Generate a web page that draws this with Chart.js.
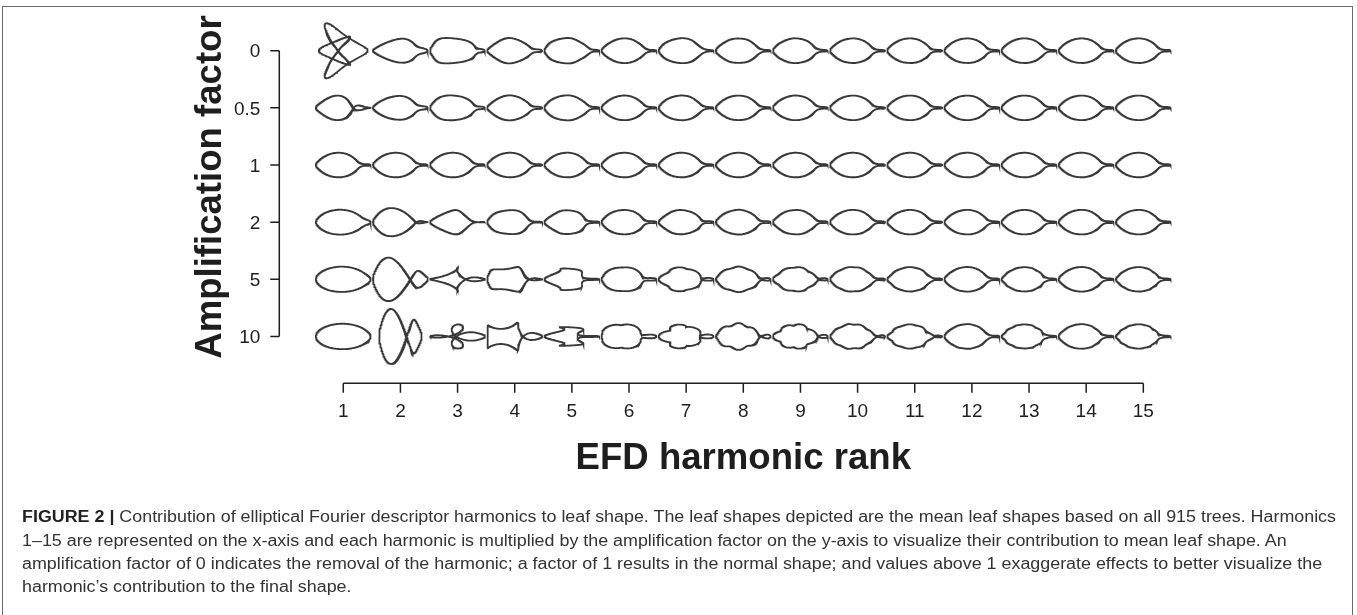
<!DOCTYPE html>
<html>
<head>
<meta charset="utf-8">
<script src="https://cdn.jsdelivr.net/npm/chart.js@4.4.1/dist/chart.umd.min.js"></script>
<style>
  html, body { margin: 0; padding: 0; background: #fff; }
  body { width: 1357px; height: 615px; position: relative; overflow: hidden;
         font-family: "Liberation Sans", Arial, Helvetica, sans-serif; }
  #frame { position: absolute; left: 2px; top: 6px; width: 1351px; height: 640px;
           border: 1.5px solid #6a6a6a; box-sizing: border-box; }
  #wrap { position: absolute; left: 0; top: 0; width: 1357px; height: 615px; }
  .cl { position: absolute; left: 22px; white-space: nowrap; color: #333;
        font-size: 16px; line-height: 20px; transform-origin: 0 50%; }
  .cl b { color: #222; }
</style>
</head>
<body>
<div id="frame"></div>
<div id="wrap"><canvas id="c" width="1357" height="615"></canvas></div>
<div id="caption"></div>
<script>
// Harmonic ranks on the x-axis and amplification factors on the y-axis
const harmonicRanks = [1, 2, 3, 4, 5, 6, 7, 8, 9, 10, 11, 12, 13, 14, 15];
const ampFactors = [0, 0.5, 1, 2, 5, 10];

// Mean leaf outline, upper edge from the apex (left) to the petiole end (right);
// the lower edge is its mirror image.
const outlineX = [-28, -26, -23, -20, -16, -12, -8, -4, 0, 4, 7, 10, 12, 14, 15.5, 17, 19, 23, 26.5, 28];
const outlineY = [0, 2.4, 5.4, 7.6, 9.8, 11.2, 11.9, 12.1, 11.7, 10.6, 9.2, 7.2, 5.6, 3.6, 2.2, 1.3, 0.9, 0.8, 0.7, 0];

const xTitle = 'EFD harmonic rank';
const yTitle = 'Amplification factor';
const captionLead = 'FIGURE 2 |';
const captionLines = [
  ' Contribution of elliptical Fourier descriptor harmonics to leaf shape. The leaf shapes depicted are the mean leaf shapes based on all 915 trees. Harmonics',
  '1\u201315 are represented on the x-axis and each harmonic is multiplied by the amplification factor on the y-axis to visualize their contribution to mean leaf shape. An',
  'amplification factor of 0 indicates the removal of the harmonic; a factor of 1 results in the normal shape; and values above 1 exaggerate effects to better visualize the',
  'harmonic\u2019s contribution to the final shape.'
];

// ---- elliptical Fourier analysis of the outline ----
function closedOutline() {
  const pts = [];
  for (let i = 0; i < outlineX.length; i++) pts.push([outlineX[i], outlineY[i]]);
  for (let i = outlineX.length - 2; i >= 1; i--) pts.push([outlineX[i], -outlineY[i]]);
  return pts;
}
// equally spaced samples along the contour, lightly smoothed (the outline is a mean of many leaves)
function resample(pts, N, sigma) {
  const n = pts.length, cum = [0];
  for (let i = 0; i < n; i++) {
    const a = pts[i], b = pts[(i + 1) % n];
    cum.push(cum[i] + Math.hypot(b[0] - a[0], b[1] - a[1]));
  }
  const L = cum[n], out = [];
  let seg = 0;
  for (let k = 0; k < N; k++) {
    const s = L * k / N;
    while (cum[seg + 1] < s) seg++;
    const a = pts[seg], b = pts[(seg + 1) % n];
    const u = (s - cum[seg]) / ((cum[seg + 1] - cum[seg]) || 1);
    out.push([a[0] + (b[0] - a[0]) * u, a[1] + (b[1] - a[1]) * u]);
  }
  const sg = sigma * N / L, R = Math.ceil(sg * 4), w = [];
  for (let j = -R; j <= R; j++) w.push(Math.exp(-0.5 * (j / sg) * (j / sg)));
  const wsum = w.reduce((p, q) => p + q, 0);
  return out.map((_, k) => {
    let x = 0, y = 0;
    for (let j = -R; j <= R; j++) {
      const p = out[((k + j) % N + N) % N], wt = w[j + R];
      x += p[0] * wt; y += p[1] * wt;
    }
    return [x / wsum, y / wsum];
  });
}
function efourier(samples, nh) {
  const N = samples.length, coe = [];
  for (let n = 1; n <= nh; n++) {
    let a = 0, b = 0, c = 0, d = 0;
    for (let k = 0; k < N; k++) {
      const t = 2 * Math.PI * k / N, cs = Math.cos(n * t), sn = Math.sin(n * t);
      a += samples[k][0] * cs; b += samples[k][0] * sn;
      c += samples[k][1] * cs; d += samples[k][1] * sn;
    }
    coe.push([2 * a / N, 2 * b / N, 2 * c / N, 2 * d / N]);
  }
  return coe;
}
// inverse transform with one harmonic multiplied by an amplification factor
function reconstruct(coe, rank, amp, M) {
  const pts = [];
  for (let m = 0; m <= M; m++) {
    const t = 2 * Math.PI * m / M;
    let x = 0, y = 0;
    for (let i = 0; i < coe.length; i++) {
      const n = i + 1, g = (n === rank) ? amp : 1, c = coe[i];
      const cs = Math.cos(n * t), sn = Math.sin(n * t);
      x += g * (c[0] * cs + c[1] * sn);
      y += g * (c[2] * cs + c[3] * sn);
    }
    pts.push([x, y]);
  }
  return pts;
}
// scale a shape so its largest bounding-box side equals `size`, centred on (cx, cy)
function template(pts, size, cx, cy) {
  let x0 = Infinity, x1 = -Infinity, y0 = Infinity, y1 = -Infinity;
  pts.forEach(p => { x0 = Math.min(x0, p[0]); x1 = Math.max(x1, p[0]); y0 = Math.min(y0, p[1]); y1 = Math.max(y1, p[1]); });
  const s = size / Math.max(x1 - x0, y1 - y0), mx = (x0 + x1) / 2, my = (y0 + y1) / 2;
  // y grows downward on the reversed y scale
  return pts.map(p => ({ x: cx + (p[0] - mx) * s, y: cy - (p[1] - my) * s }));
}

const coe = efourier(resample(closedOutline(), 2048, 1.8), harmonicRanks.length);
const GLYPH_SIZE = 0.96;
const datasets = [];
ampFactors.forEach((amp, row) => {
  harmonicRanks.forEach(rank => {
    datasets.push({
      data: template(reconstruct(coe, rank, amp, 480), GLYPH_SIZE, rank, row),
      showLine: true, fill: false, pointRadius: 0, borderColor: '#383838',
      borderWidth: 1.8, tension: 0, clip: false
    });
  });
});

// ---- axes drawn in base-graphics style from the chart scales ----
const axesPlugin = {
  id: 'rAxes',
  afterDraw(chart) {
    const ctx = chart.ctx, xs = chart.scales.x, ys = chart.scales.y, area = chart.chartArea;
    ctx.save();
    ctx.strokeStyle = '#1e1e1e'; ctx.fillStyle = '#1e1e1e'; ctx.lineWidth = 1.5;
    // x axis
    const xAxisY = area.bottom + 18.3;
    const xFirst = xs.getPixelForValue(harmonicRanks[0]);
    const xLast = xs.getPixelForValue(harmonicRanks[harmonicRanks.length - 1]);
    ctx.beginPath(); ctx.moveTo(xFirst, xAxisY); ctx.lineTo(xLast, xAxisY);
    harmonicRanks.forEach(r => { const px = xs.getPixelForValue(r); ctx.moveTo(px, xAxisY); ctx.lineTo(px, xAxisY + 9.5); });
    ctx.stroke();
    ctx.font = '19px "Liberation Sans", Arial, sans-serif';
    ctx.textAlign = 'center'; ctx.textBaseline = 'alphabetic';
    harmonicRanks.forEach(r => ctx.fillText(String(r), xs.getPixelForValue(r), xAxisY + 34));
    // y axis
    const yAxisX = area.left - 35.4;
    const yFirst = ys.getPixelForValue(0), yLast = ys.getPixelForValue(ampFactors.length - 1);
    ctx.beginPath(); ctx.moveTo(yAxisX, yFirst); ctx.lineTo(yAxisX, yLast);
    ampFactors.forEach((a, i) => { const py = ys.getPixelForValue(i); ctx.moveTo(yAxisX, py); ctx.lineTo(yAxisX - 9, py); });
    ctx.stroke();
    ctx.textAlign = 'right';
    ampFactors.forEach((a, i) => ctx.fillText(String(a), yAxisX - 19, ys.getPixelForValue(i) + 6.8));
    // titles
    ctx.font = 'bold 36.6px "Liberation Sans", Arial, sans-serif';
    ctx.textAlign = 'center';
    ctx.fillText(xTitle, (xFirst + xLast) / 2, area.bottom + 104);
    ctx.translate(yAxisX - 58.3, (area.top + area.bottom) / 2 - 6.5);
    ctx.rotate(-Math.PI / 2);
    ctx.fillText(yTitle, 0, 0);
    ctx.restore();
  }
};

new Chart(document.getElementById('c'), {
  type: 'scatter',
  data: { datasets },
  options: {
    responsive: false, animation: false, events: [],
    layout: { padding: { left: 314.7, right: 185.1, top: 22.1, bottom: 250 } },
    plugins: { legend: { display: false }, tooltip: { enabled: false } },
    scales: {
      x: { type: 'linear', min: 0.5, max: 15.5, display: false },
      y: { type: 'linear', min: -0.5, max: 5.5, reverse: true, display: false }
    }
  },
  plugins: [axesPlugin]
});

// ---- caption ----
const cap = document.getElementById('caption');
const lineCentres = [517, 541, 564, 587];
const lineEls = captionLines.map((txt, i) => {
  const d = document.createElement('div');
  d.className = 'cl';
  d.style.top = (lineCentres[i] - 10) + 'px';
  if (i === 0) { const b = document.createElement('b'); b.textContent = captionLead; d.appendChild(b); }
  d.appendChild(document.createTextNode(txt));
  cap.appendChild(d);
  return d;
});
const squeeze = 1314 / lineEls[0].getBoundingClientRect().width;
lineEls.forEach(d => { d.style.transform = 'scaleX(' + squeeze + ')'; });
</script>
</body>
</html>
